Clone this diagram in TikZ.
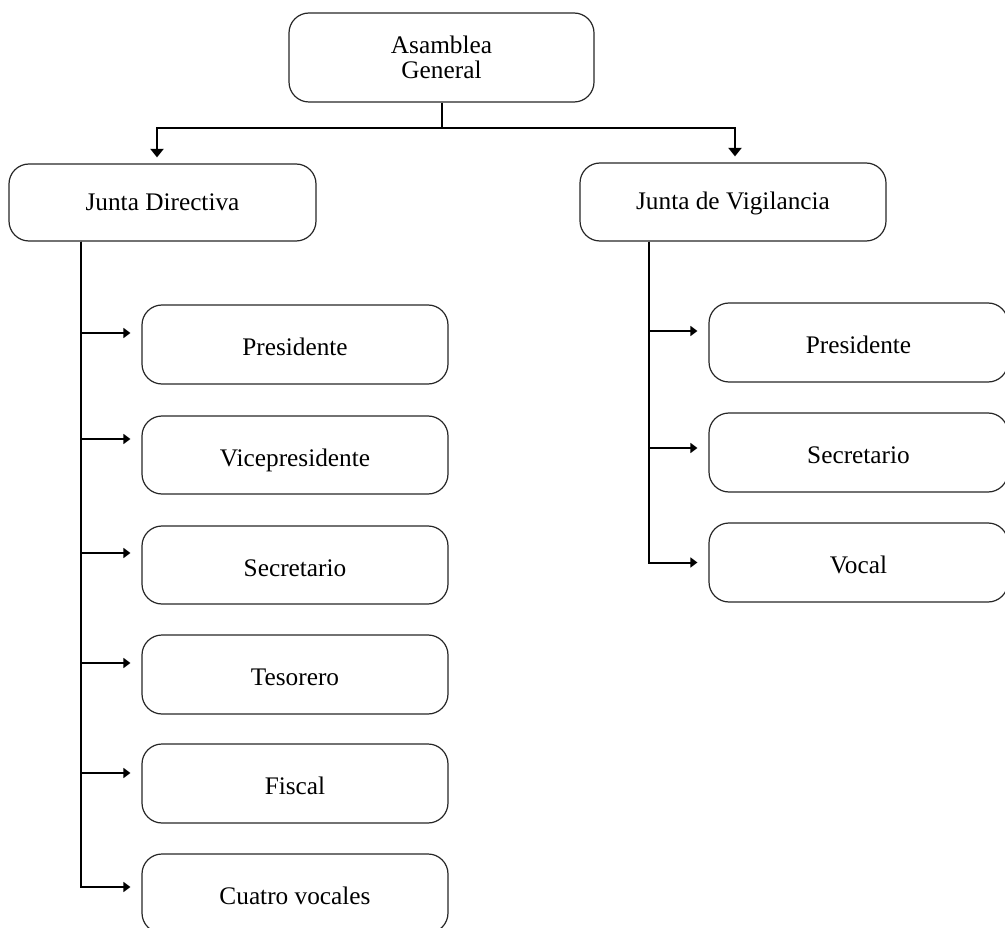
\documentclass[tikz,border=0pt]{standalone}
\usepackage{fontspec}
\setmainfont{Liberation Serif}
\usetikzlibrary{arrows.meta}
\begin{document}
\begin{tikzpicture}[x=1pt,y=-1pt,
  box/.style={draw=black!85, line width=1.2pt, rounded corners=20pt, inner sep=0pt,
    font=\fontsize{25.3}{25.5}\selectfont, text height=22pt, text depth=0pt},
  lbox/.style={box, minimum width=306pt, minimum height=79pt},
  rbox/.style={box, minimum width=299pt, minimum height=79pt},
  conn/.style={line width=2pt, -{Triangle[length=7pt,width=10pt]}},
  tconn/.style={line width=2pt, -{Triangle[length=8.5pt,width=13pt]}},
  stem/.style={line width=2pt},
]
\useasboundingbox (0,0) rectangle (1005,928);

\node[box, minimum width=305pt, minimum height=89pt, align=center, text height={}, text depth={}] (ag) at (441.5,57.5) {Asamblea\\General};
\node[box, minimum width=307pt, minimum height=77pt, text height=16pt] (jd) at (162.5,202.5) {Junta Directiva};
\node[box, minimum width=306pt, minimum height=78pt, text height=16pt] (jv) at (733,202) {Junta de Vigilancia};

\node[lbox] (lp) at (295,344.5) {Presidente};
\node[lbox, minimum height=78pt] (lv) at (295,455) {Vicepresidente};
\node[lbox, minimum height=78pt] (ls) at (295,565) {Secretario};
\node[lbox] (lt) at (295,674.5) {Tesorero};
\node[lbox] (lf) at (295,783.5) {Fiscal};
\node[lbox] (lc) at (295,893.5) {Cuatro vocales};

\node[rbox] (rp) at (858.5,342.5) {Presidente};
\node[rbox] (rs) at (858.5,452.5) {Secretario};
\node[rbox] (rv) at (858.5,562.5) {Vocal};

\coordinate (hy) at (0,128.5);
\coordinate (lx) at (81,0);
\coordinate (rx) at (649,0);

\draw[stem] (ag.south) -- (ag.south |- hy);
\draw[tconn, shorten >=6pt] (ag.south |- hy) -| ([xshift=-5.5pt]jd.north);
\draw[tconn, shorten >=6pt] (ag.south |- hy) -| ([xshift=2pt]jv.north);

\draw[conn, shorten >=11pt] (jd.south -| lx) |- ([yshift=11.5pt]lp.west);
\draw[conn, shorten >=11pt] (jd.south -| lx) |- ([yshift=16pt]lv.west);
\draw[conn, shorten >=11pt] (jd.south -| lx) |- ([yshift=12pt]ls.west);
\draw[conn, shorten >=11pt] (jd.south -| lx) |- ([yshift=11.5pt]lt.west);
\draw[conn, shorten >=11pt] (jd.south -| lx) |- ([yshift=10.5pt]lf.west);
\draw[conn, shorten >=11pt] (jd.south -| lx) |- ([yshift=6.5pt]lc.west);

\draw[conn, shorten >=11pt] (jv.south -| rx) |- ([yshift=11.5pt]rp.west);
\draw[conn, shorten >=11pt] (jv.south -| rx) |- ([yshift=4.5pt]rs.west);
\draw[conn, shorten >=11pt] (jv.south -| rx) |- (rv.west);
\end{tikzpicture}
\end{document}
